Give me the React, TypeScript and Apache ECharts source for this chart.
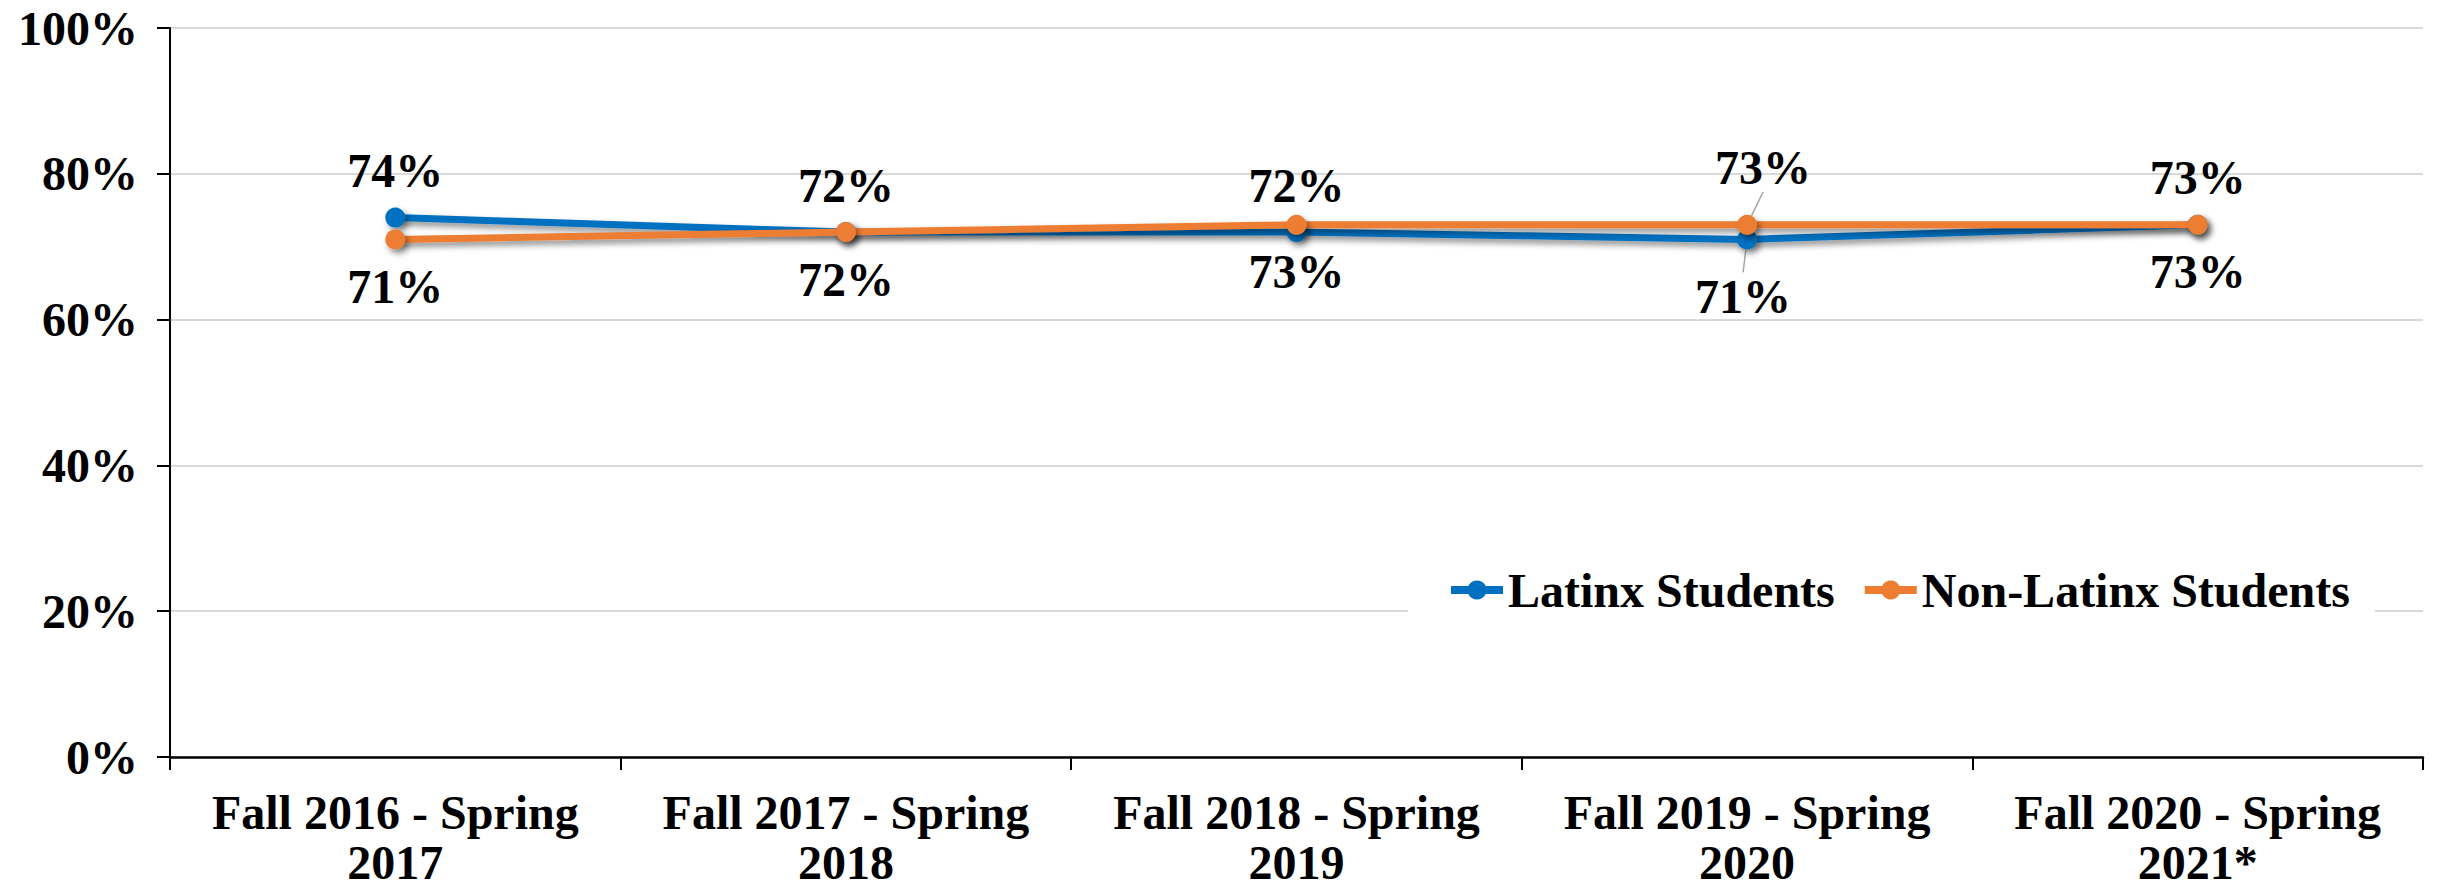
import React, { useEffect, useRef } from "react";
import * as echarts from "echarts";

const categories = [
  "Fall 2016 - Spring\n2017",
  "Fall 2017 - Spring\n2018",
  "Fall 2018 - Spring\n2019",
  "Fall 2019 - Spring\n2020",
  "Fall 2020 - Spring\n2021*",
];
const latinx = [74, 72, 72, 71, 73];
const nonLatinx = [71, 72, 73, 73, 73];
const yTicks = [0, 20, 40, 60, 80, 100];
const movedLabelIndex = 3;

const FONT = "Liberation Serif";

export default function App() {
  const ref = useRef<HTMLDivElement>(null);
  useEffect(() => {
    if (!ref.current) return;
    const chart = echarts.init(ref.current, null, { renderer: "svg" });
    const shadow = {
      shadowColor: "rgba(0,0,0,0.45)",
      shadowBlur: 6,
      shadowOffsetX: 3,
      shadowOffsetY: 4,
    };
    const labelBase = {
      show: true,
      fontFamily: FONT,
      fontWeight: "bold" as const,
      fontSize: 48,
      color: "#000",
      distance: 13,
      formatter: "{c}%",
    };
    const toData = (arr: number[]) =>
      arr.map((v, i) =>
        i === movedLabelIndex
          ? { value: v, labelLine: { show: true, lineStyle: { color: "#a6a6a6", width: 1.5 } } }
          : { value: v }
      );
    chart.setOption({
      animation: false,
      backgroundColor: "#fff",
      grid: { left: 170, right: 17, top: 28, bottom: 131, containLabel: false, outerBoundsMode: "none" },
      legend: {
        left: 1408,
        top: 556,
        backgroundColor: "#fff",
        padding: [10, 25, 10, 39],
        itemWidth: 52,
        itemHeight: 24,
        itemGap: 26,
        textStyle: { fontFamily: FONT, fontWeight: "bold", fontSize: 48, color: "#000" },
        lineStyle: { width: 8 },
        data: ["Latinx Students", "Non-Latinx Students"],
      },
      xAxis: {
        type: "category",
        data: categories,
        boundaryGap: true,
        axisLine: { lineStyle: { color: "#000", width: 2.5 } },
        axisTick: { show: true, length: 13, lineStyle: { color: "#000", width: 2 } },
        axisLabel: {
          fontFamily: FONT,
          fontWeight: "bold",
          fontSize: 48,
          color: "#000",
          lineHeight: 50,
          margin: 30,
          interval: 0,
        },
      },
      yAxis: {
        type: "value",
        min: 0,
        max: 100,
        interval: 20,
        axisLine: { show: true, lineStyle: { color: "#000", width: 2 } },
        axisTick: { show: true, length: 13, lineStyle: { color: "#000", width: 2 } },
        splitLine: { lineStyle: { color: "#d9d9d9", width: 2 } },
        axisLabel: {
          fontFamily: FONT,
          fontWeight: "bold",
          fontSize: 48,
          color: "#000",
          margin: 32,
          formatter: (v: number) => (yTicks.includes(v) ? v + "%" : ""),
        },
      },
      series: [
        {
          name: "Latinx Students",
          type: "line",
          data: toData(latinx),
          color: "#0070C0",
          symbol: "circle",
          symbolSize: 20,
          lineStyle: { width: 7, color: "#0070C0", ...shadow },
          itemStyle: { color: "#0070C0", ...shadow },
          label: { ...labelBase, position: "top" },
          labelLine: { show: false },
          labelLayout: (p: any) =>
            p.dataIndex === movedLabelIndex ? { dy: 104, dx: -4 } : {},
          z: 2,
        },
        {
          name: "Non-Latinx Students",
          type: "line",
          data: toData(nonLatinx),
          color: "#ED7D31",
          symbol: "circle",
          symbolSize: 20,
          lineStyle: { width: 7, color: "#ED7D31", ...shadow },
          itemStyle: { color: "#ED7D31", ...shadow },
          label: { ...labelBase, position: "bottom" },
          labelLine: { show: false },
          labelLayout: (p: any) =>
            p.dataIndex === movedLabelIndex ? { dy: -104, dx: 16 } : {},
          z: 3,
        },
      ],
    });
    return () => chart.dispose();
  }, []);
  return (
    <div
      ref={ref}
      style={{ position: "absolute", left: 0, top: 0, width: 2440, height: 888 }}
    />
  );
}
